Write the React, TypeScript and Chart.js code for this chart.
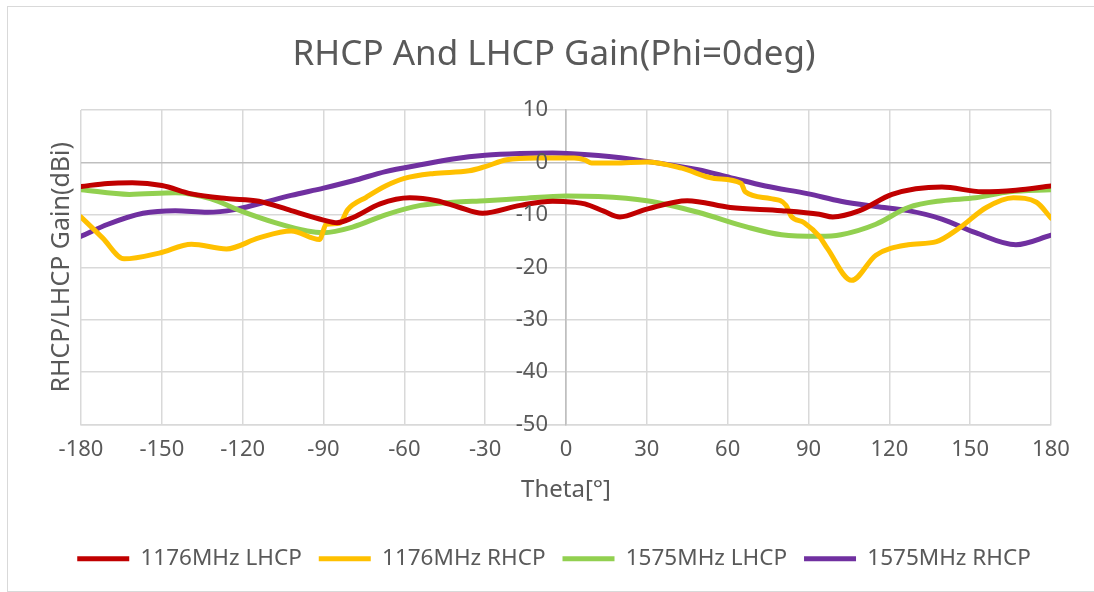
import React, { useEffect, useRef } from "react";
import { Chart, registerables } from "chart.js";

Chart.register(...registerables);

const chartTitle = "RHCP And LHCP Gain(Phi=0deg)";
const xTitle = "Theta[°]";
const yTitle = "RHCP/LHCP Gain(dBi)";
const xTicks = [-180, -150, -120, -90, -60, -30, 0, 30, 60, 90, 120, 150, 180];
const yTicks = [-50, -40, -30, -20, -10, 0, 10];

const seriesNames = ["1176MHz LHCP", "1176MHz RHCP", "1575MHz LHCP", "1575MHz RHCP"];
const seriesColors = ["#C00000", "#FFC000", "#92D050", "#7030A0"];

const lhcp1176Theta = [-180, -170, -161, -150, -139, -126, -114, -102, -90, -85, -79, -69, -58, -48, -40, -31, -17, -5, 3, 7, 14, 20, 30, 45, 61, 80, 94, 99, 109, 121, 139.5, 154.5, 167, 180];
const lhcp1176Gain = [-4.6, -4.0, -3.9, -4.4, -6.0, -6.9, -7.4, -9.2, -11.0, -11.5, -10.5, -7.9, -6.75, -7.3, -8.5, -9.7, -8.2, -7.4, -7.6, -7.9, -9.3, -10.4, -8.9, -7.3, -8.6, -9.2, -9.9, -10.4, -9.2, -6.1, -4.7, -5.6, -5.3, -4.5];

const rhcp1176Theta = [-180, -172, -164, -151, -139, -126, -114, -102, -91.5, -89, -84, -81, -74, -67, -60, -49, -36, -30, -22, -11, 3, 7, 9.5, 18, 30, 43, 55, 65, 66.5, 76, 81.7, 83.5, 88.4, 94, 97, 106, 115, 127, 137.5, 146, 156, 166, 174.6, 180];
const rhcp1176Gain = [-10.4, -14.4, -18.4, -17.3, -15.6, -16.5, -14.4, -13.1, -14.7, -11.8, -11.6, -9.0, -6.6, -4.5, -3.05, -2.1, -1.6, -0.8, 0.5, 0.85, 0.85, 0.5, -0.1, -0.1, 0.1, -1.1, -3.05, -4.0, -5.6, -6.9, -8.2, -10.2, -11.5, -14.1, -16.4, -22.5, -17.7, -15.7, -15.1, -12.5, -8.6, -6.75, -7.6, -10.6];

const lhcp1575Theta = [-180, -162, -145, -132, -120, -108, -96, -90, -79, -67, -54, -42, -30, -17, 0, 12, 30, 49, 67, 80, 94, 102, 115, 127, 139.5, 152, 164.5, 180];
const lhcp1575Gain = [-5.2, -6.1, -5.8, -6.9, -9.4, -11.5, -13.1, -13.4, -12.3, -10.0, -8.2, -7.6, -7.3, -6.9, -6.4, -6.5, -7.3, -9.5, -12.3, -13.8, -14.1, -13.8, -11.8, -8.6, -7.3, -6.75, -5.6, -5.2];

const rhcp1575Theta = [-180, -170, -157, -145, -133, -123, -114, -102, -90, -79, -67, -54, -42, -30, -17, -5, 12, 30, 49, 61, 74, 90, 102, 115, 127, 139.5, 152, 167, 180];
const rhcp1575Gain = [-14.1, -11.8, -9.7, -9.2, -9.5, -9.0, -7.9, -6.3, -4.9, -3.5, -1.75, -0.45, 0.65, 1.36, 1.7, 1.8, 1.3, 0.2, -1.4, -2.9, -4.5, -6.0, -7.4, -8.4, -9.2, -10.8, -13.4, -15.7, -13.9];

const thetaSets = [lhcp1176Theta, rhcp1176Theta, lhcp1575Theta, rhcp1575Theta];
const gainSets = [lhcp1176Gain, rhcp1176Gain, lhcp1575Gain, rhcp1575Gain];

const FONT = "'Noto Sans', sans-serif";
const TEXT = "#595959";
const GRID = "#d9d9d9";
const ZERO = "#bfbfbf";

// Draws the y tick labels beside the y axis that crosses at theta = 0
const yLabelPlugin = {
  id: "yLabelsAtCrossing",
  afterDraw(chart: any) {
    const ys = chart.scales.y;
    const xs = chart.scales.x;
    if (!ys || !xs) return;
    const ctx = chart.ctx;
    const axisX = xs.getPixelForValue(0);
    ctx.save();
    ctx.font = `normal 22px ${FONT}`;
    ctx.fillStyle = TEXT;
    ctx.textAlign = "right";
    ctx.textBaseline = "middle";
    ys.ticks.forEach((t: any) => {
      ctx.fillText(String(t.value), axisX - 18, ys.getPixelForValue(t.value));
    });
    ctx.restore();
  },
};

export default function App() {
  const ref = useRef<HTMLCanvasElement | null>(null);

  useEffect(() => {
    if (!ref.current) return;
    const datasets = seriesNames.map((name, i) => ({
      label: name,
      data: thetaSets[i].map((t, j) => ({ x: t, y: gainSets[i][j] })),
      borderColor: seriesColors[i],
      backgroundColor: seriesColors[i],
      borderWidth: 5,
      borderCapStyle: "round" as const,
      borderJoinStyle: "round" as const,
      pointRadius: 0,
      cubicInterpolationMode: "monotone" as const,
      fill: false,
    }));

    const chart = new Chart(ref.current, {
      type: "line",
      data: { datasets },
      plugins: [yLabelPlugin],
      options: {
        responsive: false,
        animation: false,
        layout: { padding: { left: 0, right: 0, top: 0, bottom: 12 } },
        plugins: {
          title: {
            display: true,
            text: chartTitle,
            color: TEXT,
            font: { family: FONT, size: 35, weight: "normal" },
            padding: { top: 34, bottom: 34 },
          },
          legend: {
            position: "bottom",
            labels: {
              color: TEXT,
              font: { family: FONT, size: 22.5 },
              usePointStyle: true,
              pointStyle: "line",
              pointStyleWidth: 52,
              padding: 17,
            },
          },
          tooltip: { enabled: false },
        },
        scales: {
          x: {
            type: "linear",
            position: "bottom",
            min: -180,
            max: 180,
            afterBuildTicks: (s: any) => {
              s.ticks = xTicks.map((v) => ({ value: v }));
            },
            afterFit: (s: any) => {
              s.height = 106;
            },
            ticks: {
              color: TEXT,
              font: { family: FONT, size: 22 },
              padding: 12,
              maxRotation: 0,
              autoSkip: false,
            },
            grid: {
              color: (c: any) => (c.tick && c.tick.value === 0 ? ZERO : GRID),
              lineWidth: 1.5,
              drawTicks: false,
            },
            border: { color: GRID, width: 1.5 },
            title: {
              display: true,
              text: xTitle,
              color: TEXT,
              font: { family: FONT, size: 24 },
              padding: { top: 0, bottom: 26 },
            },
          },
          y: {
            type: "linear",
            position: { x: 0 } as any,
            min: -50,
            max: 10,
            afterBuildTicks: (s: any) => {
              s.ticks = yTicks.map((v) => ({ value: v }));
            },
            ticks: { display: false },
            grid: {
              color: (c: any) => (c.tick && c.tick.value === 0 ? ZERO : GRID),
              lineWidth: 1.5,
              drawTicks: false,
            },
            border: { color: ZERO, width: 1.5 },
          },
          yT: {
            type: "linear",
            position: "left",
            afterFit: (s: any) => {
              s.width = 74;
            },
            ticks: { display: false },
            grid: { display: false },
            border: { display: false },
            title: {
              display: true,
              text: yTitle,
              color: TEXT,
              font: { family: FONT, size: 25 },
              padding: { top: 40, bottom: 0 },
            },
          },
          yR: {
            type: "linear",
            position: "right",
            afterFit: (s: any) => {
              s.width = 50;
            },
            ticks: { display: false },
            grid: { display: false },
            border: { display: false },
          },
        },
      },
    });
    return () => chart.destroy();
  }, []);

  return (
    <div
      style={{
        position: "fixed",
        left: 0,
        top: 0,
        width: 1094,
        height: 592,
        overflow: "hidden",
        background: "#fff",
      }}
    >
      <div
        style={{
          position: "absolute",
          left: 7,
          top: 6,
          width: 1100,
          height: 586,
          boxSizing: "border-box",
          border: "1.5px solid #d9d9d9",
        }}
      />
      <canvas
        ref={ref}
        width={1094}
        height={592}
        style={{ position: "absolute", left: 7, top: 0, display: "block" }}
      />
    </div>
  );
}
